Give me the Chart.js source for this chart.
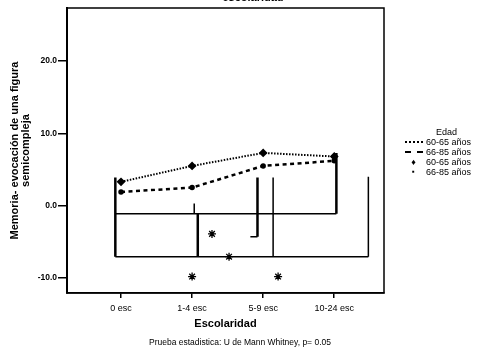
<!DOCTYPE html>
<html>
<head>
<meta charset="utf-8">
<script src="https://cdn.jsdelivr.net/npm/chart.js@4"></script>
<style>
  body { margin: 0; background: #fff; }
  #wrap { position: relative; width: 487px; height: 358px; overflow: hidden; font-family: 'Liberation Sans', Arial, sans-serif; color: #000; }
  #title { position: absolute; left: 0; width: 506px; top: -9px; text-align: center; font-weight: bold; font-size: 11px; }
  #foot { position: absolute; left: 0; width: 480px; top: 337px; text-align: center; font-size: 8.5px; }
  #legend { position: absolute; left: 404px; top: 127px; font-size: 9px; line-height: 10px; }
  #legend .row { display: flex; align-items: center; height: 10px; }
  #legend .smp { width: 19px; margin-right: 3px; display: flex; justify-content: center; }
  #legend .dot { width: 18px; border-top: 2px dotted #000; }
  #legend .dash { width: 18px; border-top: 2px dashed #000; }
  #legend .head { padding-left: 32px; }
</style>
</head>
<body>
<div id="wrap">
  <canvas id="chart" width="487" height="358"></canvas>
  <div id="title">escolaridad</div>
  <div id="legend">
    <div class="row head">Edad</div>
    <div class="row"><span class="smp"><span class="dot"></span></span>60-65 años</div>
    <div class="row"><span class="smp"><span class="dash"></span></span>66-85 años</div>
    <div class="row"><span class="smp" style="font-size:9px">&#9830;</span>60-65 años</div>
    <div class="row"><span class="smp" style="font-size:8px">&#9642;</span>66-85 años</div>
  </div>
  <div id="foot">Prueba estadistica: U de Mann Whitney, p= 0.05</div>
</div>
<script>
const categories = ['0 esc', '1-4 esc', '5-9 esc', '10-24 esc'];
const edad6065 = [3.3, 5.5, 7.3, 6.8];
const edad6685 = [1.9, 2.5, 5.5, 6.2];
const yTicks = [-10, 0, 10, 20];

// stray box lines in the figure, in data units: [x1, y1, x2, y2]
const thickLines = [
  [-0.08, 3.9, -0.08, -7.05],
  [1.08, -1.1, 1.08, -7.05],
  [1.92, 3.9, 1.92, -4.3],
  [3.03, 7.3, 3.03, -1.1]
];
const thinLines = [
  [-0.08, -1.1, 3.03, -1.1],
  [-0.08, -7.05, 3.48, -7.05],
  [1.03, 0.3, 1.03, -1.1],
  [1.82, -4.3, 1.92, -4.3],
  [2.14, 3.9, 2.14, -7.05],
  [3.48, 4.0, 3.48, -7.05]
];
const starX = [1.28, 1.52, 1.0, 2.21];
const starY = [-3.9, -7.05, -9.8, -9.8];

const segData = segs => segs.flatMap(s => [{x: s[0], y: s[1]}, {x: s[2], y: s[3]}, {x: null, y: null}]);

const framePlugin = {
  id: 'frame',
  afterDraw(chart) {
    const {ctx, chartArea: a} = chart;
    ctx.save();
    ctx.strokeStyle = '#000';
    ctx.lineWidth = 1.5;
    ctx.strokeRect(a.left, a.top, a.right - a.left, a.bottom - a.top);
    ctx.restore();
  }
};

new Chart(document.getElementById('chart'), {
  type: 'line',
  data: {
    datasets: [
      {
        label: '60-65 años',
        data: edad6065.map((v, i) => ({x: i, y: v})),
        borderColor: '#000', backgroundColor: '#000',
        borderWidth: 2, borderDash: [1.5, 1.5],
        pointStyle: 'rectRot', pointRadius: 3
      },
      {
        label: '66-85 años',
        data: edad6685.map((v, i) => ({x: i, y: v})),
        borderColor: '#000', backgroundColor: '#000',
        borderWidth: 2.5, borderDash: [4, 3.5],
        pointStyle: 'circle', pointRadius: 1.5
      },
      {
        data: segData(thickLines),
        borderColor: '#000', borderWidth: 2.5, pointRadius: 0, spanGaps: false
      },
      {
        data: segData(thinLines),
        borderColor: '#000', borderWidth: 1.5, pointRadius: 0, spanGaps: false
      },
      {
        data: starX.map((x, i) => ({x: x, y: starY[i]})),
        showLine: false,
        borderColor: '#000', borderWidth: 1.3,
        pointStyle: 'star', pointRadius: 4
      }
    ]
  },
  options: {
    animation: false,
    responsive: false,
    layout: { padding: { top: 8, right: 103, left: 0, bottom: 0 } },
    plugins: { legend: { display: false }, tooltip: { enabled: false } },
    scales: {
      x: {
        type: 'linear',
        min: -0.76, max: 3.70,
        afterBuildTicks: s => { s.ticks = categories.map((c, i) => ({value: i})); },
        afterFit: s => { s.height = 65; s.paddingLeft = 0; s.paddingRight = 0; },
        ticks: {
          callback: v => categories[v],
          color: '#000', padding: 5, maxRotation: 0, autoSkip: false,
          font: { family: 'Liberation Sans', size: 9 }
        },
        grid: { drawOnChartArea: false, drawTicks: true, tickLength: 5, color: '#000', lineWidth: 1.5 },
        border: { display: true, color: '#000', width: 1.5 },
        title: {
          display: true, text: 'Escolaridad', color: '#000',
          font: { family: 'Liberation Sans', size: 11, weight: 'bold' },
          padding: { top: 0, bottom: 27 }
        }
      },
      y: {
        min: -12.07, max: 27.33,
        afterBuildTicks: s => { s.ticks = yTicks.map(v => ({value: v})); },
        afterFit: s => { s.width = 67; s.paddingTop = 0; s.paddingBottom = 0; },
        ticks: {
          callback: v => v.toFixed(1),
          color: '#000', padding: 1,
          font: { family: 'Liberation Sans', size: 8.5, weight: 'bold' }
        },
        grid: { drawOnChartArea: false, drawTicks: true, tickLength: 9, color: '#000', lineWidth: 1.5 },
        border: { display: true, color: '#000', width: 2 },
        title: {
          display: true,
          text: ['Memoria- evocación de una figura', 'semicompleja'],
          color: '#000',
          font: { family: 'Liberation Sans', size: 11, weight: 'bold', lineHeight: 0.95 },
          padding: { top: 10, bottom: 0 }
        }
      }
    }
  },
  plugins: [framePlugin]
});
</script>
</body>
</html>
